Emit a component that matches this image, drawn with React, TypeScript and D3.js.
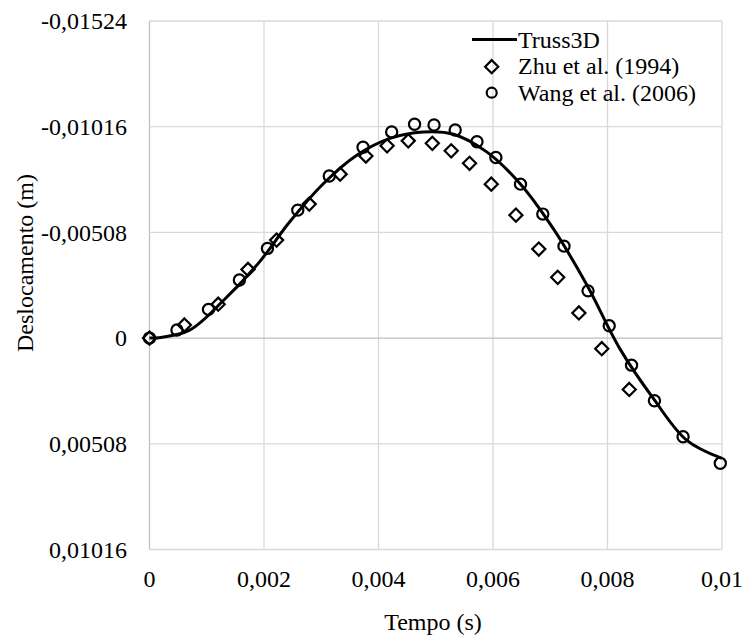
import React, { useEffect, useRef } from "react";
import * as d3 from "d3";

// axis ticks
const timeTicks = [0, 0.002, 0.004, 0.006, 0.008, 0.01];
const timeLabels = ["0", "0,002", "0,004", "0,006", "0,008", "0,01"];
const dispTicks = [-0.01524, -0.01016, -0.00508, 0, 0.00508, 0.01016];
const dispLabels = ["-0,01524", "-0,01016", "-0,00508", "0", "0,00508", "0,01016"];

// Truss3D (line)
const trussTime = [0, 0.0002, 0.0007, 0.0013, 0.0019, 0.00245, 0.00304, 0.00362, 0.0042, 0.00478, 0.00531, 0.00589, 0.00647, 0.00705, 0.00764, 0.00822, 0.0088, 0.00938, 0.01];
const trussDisp = [0, -0.00003, -0.00038, -0.00183, -0.00359, -0.00559, -0.00743, -0.00879, -0.0096, -0.00991, -0.0098, -0.00895, -0.00743, -0.00527, -0.00255, 0.00053, 0.0029, 0.0049, 0.00578];

// Zhu et al. (1994) (diamonds)
const zhuTime = [0, 0.00061, 0.0012, 0.00172, 0.00222, 0.00279, 0.00333, 0.00378, 0.00415, 0.00452, 0.00494, 0.00527, 0.00559, 0.00597, 0.0064, 0.0068, 0.00713, 0.0075, 0.0079, 0.00838];
const zhuDisp = [0, -0.00063, -0.00163, -0.0033, -0.00471, -0.00644, -0.00788, -0.00875, -0.00924, -0.00948, -0.00936, -0.009, -0.0084, -0.0074, -0.00591, -0.00428, -0.00292, -0.00121, 0.00051, 0.00247];

// Wang et al. (2006) (circles)
const wangTime = [0, 0.00048, 0.00103, 0.00157, 0.00206, 0.00259, 0.00314, 0.00373, 0.00423, 0.00463, 0.00497, 0.00534, 0.00572, 0.00605, 0.00648, 0.00687, 0.00724, 0.00766, 0.00803, 0.00842, 0.00882, 0.00932, 0.00997];
const wangDisp = [0, -0.00039, -0.00138, -0.00279, -0.00431, -0.00615, -0.00779, -0.00917, -0.00991, -0.01028, -0.01024, -0.01, -0.00944, -0.00868, -0.0074, -0.00596, -0.00442, -0.00227, -0.00059, 0.0013, 0.00301, 0.00474, 0.00602];

const FONT = '"Liberation Serif", "Times New Roman", serif';

function DisplacementChart() {
    const ref = useRef<SVGSVGElement>(null);

    useEffect(() => {
        const svg = d3.select(ref.current);
        svg.selectAll("*").remove();

        const width = 742, height = 635;
        const left = 149.5, right = 722, top = 21, bottom = 549.5;

        const x = d3.scaleLinear().domain([0, 0.01]).range([left, right]);
        const y = d3.scaleLinear().domain([-0.01524, 0.01016]).range([top, bottom]);

        svg.attr("width", width).attr("height", height);

        // gridlines
        svg.append("g")
            .selectAll("line.v")
            .data(timeTicks)
            .enter()
            .append("line")
            .attr("x1", d => x(d)).attr("x2", d => x(d))
            .attr("y1", top).attr("y2", bottom)
            .attr("stroke", d => (d === 0 ? "#bfbfbf" : "#d9d9d9"))
            .attr("stroke-width", 1.3);

        svg.append("g")
            .selectAll("line.h")
            .data(dispTicks)
            .enter()
            .append("line")
            .attr("x1", left).attr("x2", right)
            .attr("y1", d => y(d)).attr("y2", d => y(d))
            .attr("stroke", d => (d === 0 ? "#bfbfbf" : "#d9d9d9"))
            .attr("stroke-width", 1.3);

        // tick labels
        svg.append("g")
            .selectAll("text")
            .data(dispTicks)
            .enter()
            .append("text")
            .attr("x", 127)
            .attr("y", d => y(d))
            .attr("dy", "0.34em")
            .attr("text-anchor", "end")
            .style("font-family", FONT)
            .style("font-size", "24px")
            .text((d, i) => dispLabels[i]);

        svg.append("g")
            .selectAll("text")
            .data(timeTicks)
            .enter()
            .append("text")
            .attr("x", d => x(d))
            .attr("y", 579)
            .attr("dy", "0.34em")
            .attr("text-anchor", "middle")
            .style("font-family", FONT)
            .style("font-size", "24px")
            .text((d, i) => timeLabels[i]);

        // axis titles
        svg.append("text")
            .attr("x", 433)
            .attr("y", 622)
            .attr("dy", "0.34em")
            .attr("text-anchor", "middle")
            .style("font-family", FONT)
            .style("font-size", "24px")
            .text("Tempo (s)");

        svg.append("text")
            .attr("transform", "translate(25,263) rotate(-90)")
            .attr("dy", "0.34em")
            .attr("text-anchor", "middle")
            .style("font-family", FONT)
            .style("font-size", "24px")
            .text("Deslocamento (m)");

        // Truss3D line
        const line = d3.line<number>()
            .x((d, i) => x(trussTime[i]))
            .y(d => y(d))
            .curve(d3.curveCatmullRom.alpha(0.5));

        svg.append("path")
            .datum(trussDisp)
            .attr("d", line)
            .attr("fill", "none")
            .attr("stroke", "#000")
            .attr("stroke-width", 3);

        // Zhu diamonds
        const diamond = d3.symbol().type(d3.symbolDiamond2).size(110);
        svg.append("g")
            .selectAll("path")
            .data(zhuDisp)
            .enter()
            .append("path")
            .attr("d", diamond)
            .attr("transform", (d, i) => `translate(${x(zhuTime[i])},${y(d)})`)
            .attr("fill", "none")
            .attr("stroke", "#000")
            .attr("stroke-width", 2.2);

        // Wang circles
        svg.append("g")
            .selectAll("circle")
            .data(wangDisp)
            .enter()
            .append("circle")
            .attr("cx", (d, i) => x(wangTime[i]))
            .attr("cy", d => y(d))
            .attr("r", 5.6)
            .attr("fill", "none")
            .attr("stroke", "#000")
            .attr("stroke-width", 2.2);

        // legend
        const legend = svg.append("g");
        legend.append("line")
            .attr("x1", 472).attr("x2", 517)
            .attr("y1", 39.5).attr("y2", 39.5)
            .attr("stroke", "#000")
            .attr("stroke-width", 3);
        legend.append("path")
            .attr("d", diamond)
            .attr("transform", "translate(491.7,66.7)")
            .attr("fill", "none")
            .attr("stroke", "#000")
            .attr("stroke-width", 2.2);
        legend.append("circle")
            .attr("cx", 491.7).attr("cy", 92.7)
            .attr("r", 5)
            .attr("fill", "none")
            .attr("stroke", "#000")
            .attr("stroke-width", 2.2);

        const names = ["Truss3D", "Zhu et al. (1994)", "Wang et al. (2006)"];
        legend.selectAll("text")
            .data(names)
            .enter()
            .append("text")
            .attr("x", 518)
            .attr("y", (d, i) => 39.5 + i * 26.6)
            .attr("dy", "0.34em")
            .style("font-family", FONT)
            .style("font-size", "24px")
            .text(d => d);
    }, []);

    return <svg ref={ref} style={{ position: "absolute", left: 0, top: 0, background: "#fff" }} />;
}

export default function App() {
    return <DisplacementChart />;
}
